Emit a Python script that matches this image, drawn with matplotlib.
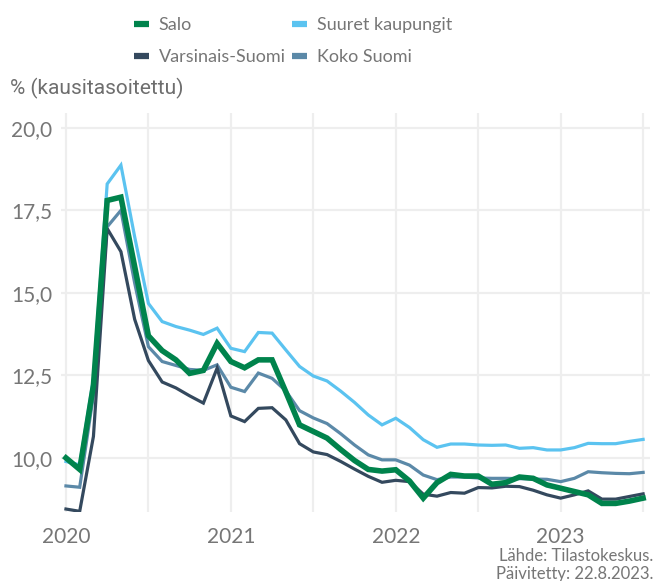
import matplotlib
matplotlib.use("Agg")
import matplotlib.pyplot as plt
from matplotlib.lines import Line2D
import numpy as np

# Monthly data, Jan 2020 - Jul 2023
start_year = 2020
salo = [10.0, 9.65, 12.2, 17.8, 17.9, 15.8, 13.7, 13.25, 12.97, 12.56, 12.65, 13.47,
        12.92, 12.73, 12.97, 12.97, 12.0, 11.0, 10.8, 10.6, 10.25, 9.92, 9.65, 9.6,
        9.64, 9.3, 8.78, 9.25, 9.5, 9.45, 9.45, 9.2, 9.25, 9.42, 9.38, 9.18,
        9.08, 8.98, 8.88, 8.62, 8.62, 8.69, 8.78]
suuret = [9.89, 9.79, 12.4, 18.3, 18.87, 16.7, 14.68, 14.13, 13.98, 13.87, 13.74, 13.93,
          13.32, 13.22, 13.8, 13.78, 13.27, 12.77, 12.48, 12.33, 12.02, 11.68, 11.3, 11.0,
          11.2, 10.92, 10.55, 10.32, 10.42, 10.42, 10.39, 10.38, 10.39, 10.29, 10.31, 10.24,
          10.24, 10.31, 10.44, 10.43, 10.43, 10.5, 10.56]
varsinais = [8.45, 8.38, 10.65, 16.95, 16.25, 14.2, 12.95, 12.3, 12.12, 11.88, 11.66, 12.72,
             11.27, 11.1, 11.5, 11.52, 11.15, 10.43, 10.18, 10.1, 9.89, 9.66, 9.44, 9.26,
             9.32, 9.28, 8.9, 8.84, 8.95, 8.93, 9.1, 9.09, 9.14, 9.13, 9.02, 8.88,
             8.78, 8.88, 9.0, 8.75, 8.75, 8.83, 8.91]
koko = [9.15, 9.11, 11.9, 17.0, 17.5, 15.3, 13.37, 12.92, 12.8, 12.68, 12.65, 12.82,
        12.14, 12.01, 12.57, 12.41, 12.03, 11.43, 11.21, 11.04, 10.73, 10.39, 10.09, 9.94,
        9.94, 9.78, 9.48, 9.34, 9.42, 9.42, 9.39, 9.38, 9.38, 9.37, 9.36, 9.35,
        9.28, 9.38, 9.58, 9.55, 9.53, 9.52, 9.56]

labels = ["Salo", "Suuret kaupungit", "Varsinais-Suomi", "Koko Suomi"]
colors = {"Salo": "#00834C", "Suuret kaupungit": "#5BC3F0",
          "Varsinais-Suomi": "#34495E", "Koko Suomi": "#5B89A8"}
yticks = [10.0, 12.5, 15.0, 17.5, 20.0]
ytick_labels = ["10,0", "12,5", "15,0", "17,5", "20,0"]
xtick_labels = ["2020", "2021", "2022", "2023"]

x = start_year + np.arange(len(salo)) / 12.0

fig = plt.figure(figsize=(6.53, 5.81), dpi=100)
ax = fig.add_axes([61/653, 1-512/581, (650-61)/653, (512-113)/581])

grid_c = "#EEEEEE"
txt_c = "#767676"
lato = ["Lato", "DejaVu Sans"]

for name, series, lw, z in [("Koko Suomi", koko, 2.3, 2), ("Varsinais-Suomi", varsinais, 2.3, 3),
                            ("Suuret kaupungit", suuret, 2.3, 2.5), ("Salo", salo, 4.0, 4)]:
    ax.plot(x, series, color=colors[name], lw=lw, zorder=z, solid_joinstyle="miter")

ax.set_xlim(2020 - 0.36/12, 2020 + 42.5/12)
ax.set_ylim(8.36, 20.45)
ax.set_xticks([2020, 2021, 2022, 2023])
ax.set_xticklabels(xtick_labels)
ax.set_xticks([2020.5, 2021.5, 2022.5, 2023.5], minor=True)
ax.set_yticks(yticks)
ax.set_yticklabels(ytick_labels)
ax.grid(True, which="both", axis="x", color=grid_c, lw=1.6, zorder=0)
ax.grid(True, which="major", axis="y", color=grid_c, lw=1.6, zorder=0)
ax.tick_params(which="both", length=0)
ax.tick_params(axis="y", pad=6.5)
ax.tick_params(axis="x", pad=11)
for lab in ax.get_xticklabels() + ax.get_yticklabels():
    lab.set_fontfamily(lato)
    lab.set_fontsize(15)
    lab.set_color(txt_c)
for s in ax.spines.values():
    s.set_visible(False)

fig.text(10/653, 1-88/581, "% (kausitasoitettu)", family=["Roboto", "DejaVu Sans"],
         fontsize=15, color="#6E6E6E", va="center", ha="left")

handles = [Line2D([0], [0], color=colors[n], lw=4.5, solid_capstyle="butt") for n in labels]
order = [0, 2, 1, 3]
leg = fig.legend([handles[i] for i in order], [labels[i] for i in order], ncol=2,
                 loc="upper left", bbox_to_anchor=(134/653, 1-17/581), frameon=False,
                 borderpad=0, borderaxespad=0,
                 handlelength=0.83, handletextpad=0.55, columnspacing=0.35,
                 labelspacing=0.9,
                 prop=dict(family=lato, size=13))
for t in leg.get_texts():
    t.set_color(txt_c)

fig.text(653/653, 1-556/581, "Lähde: Tilastokeskus.", ha="right", va="center",
         fontsize=12, color=txt_c, family=lato)
fig.text(653/653, 1-574/581, "Päivitetty: 22.8.2023.", ha="right", va="center",
         fontsize=12, color=txt_c, family=lato)

fig.savefig("out.png", dpi=100)
